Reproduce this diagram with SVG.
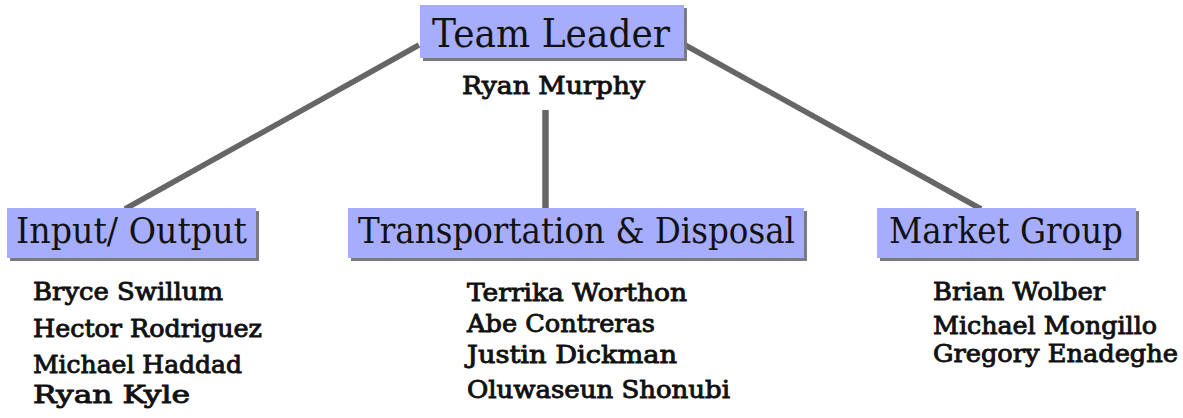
<svg xmlns="http://www.w3.org/2000/svg" width="1183" height="418" viewBox="0 0 1183 418">
<style>
.box{fill:#a6adfc}
.sh{fill:#7a7a80}
.hd{font-family:"DejaVu Serif","Liberation Serif",serif;font-size:35px;fill:#111}
.nm{font-family:"DejaVu Serif","Liberation Serif",serif;font-size:24px;fill:#111;stroke:#111;stroke-width:0.9}
.ln{stroke:#666;stroke-width:5.5;stroke-linecap:butt;fill:none}
</style>
<rect width="1183" height="418" fill="#fff"/>
<g id="connectors">
<line class="ln" x1="419" y1="45" x2="125" y2="209"/>
<line class="ln" x1="685" y1="45" x2="981" y2="209"/>
<line class="ln" x1="545.5" y1="110" x2="545.5" y2="209" style="stroke-width:6.5"/>
</g>
<g id="team-leader">
<rect class="sh" x="423" y="8" width="264" height="53"/>
<rect class="box" x="420" y="5" width="264" height="53"/>
<text class="hd" x="432" y="47" textLength="238" lengthAdjust="spacingAndGlyphs" style="font-size:40px">Team Leader</text>
<text class="nm" x="462" y="94" textLength="183" lengthAdjust="spacingAndGlyphs">Ryan Murphy</text>
</g>
<g id="input-output">
<rect class="sh" x="10" y="211" width="249" height="50"/>
<rect class="box" x="7" y="208" width="249" height="50"/>
<text class="hd" x="16" y="243" textLength="231" lengthAdjust="spacingAndGlyphs">Input/ Output</text>
<text class="nm" x="33" y="300" textLength="190" lengthAdjust="spacingAndGlyphs">Bryce Swillum</text>
<text class="nm" x="33" y="337" textLength="229" lengthAdjust="spacingAndGlyphs">Hector Rodriguez</text>
<text class="nm" x="33" y="373" textLength="209" lengthAdjust="spacingAndGlyphs">Michael Haddad</text>
<text class="nm" x="33" y="403" textLength="157" lengthAdjust="spacingAndGlyphs">Ryan Kyle</text>
</g>
<g id="transportation-disposal">
<rect class="sh" x="351" y="211" width="456" height="50"/>
<rect class="box" x="348" y="208" width="456" height="50"/>
<text class="hd" x="358" y="243" textLength="437" lengthAdjust="spacingAndGlyphs">Transportation &amp; Disposal</text>
<text class="nm" x="467" y="301" textLength="220" lengthAdjust="spacingAndGlyphs">Terrika Worthon</text>
<text class="nm" x="467" y="332" textLength="188" lengthAdjust="spacingAndGlyphs">Abe Contreras</text>
<text class="nm" x="467" y="363" textLength="210" lengthAdjust="spacingAndGlyphs">Justin Dickman</text>
<text class="nm" x="467" y="398" textLength="263" lengthAdjust="spacingAndGlyphs">Oluwaseun Shonubi</text>
</g>
<g id="market-group">
<rect class="sh" x="880" y="211" width="259" height="50"/>
<rect class="box" x="877" y="208" width="259" height="50"/>
<text class="hd" x="889" y="243" textLength="234" lengthAdjust="spacingAndGlyphs">Market Group</text>
<text class="nm" x="933" y="300" textLength="172" lengthAdjust="spacingAndGlyphs">Brian Wolber</text>
<text class="nm" x="933" y="334" textLength="224" lengthAdjust="spacingAndGlyphs">Michael Mongillo</text>
<text class="nm" x="933" y="362" textLength="245" lengthAdjust="spacingAndGlyphs">Gregory Enadeghe</text>
</g>
</svg>
